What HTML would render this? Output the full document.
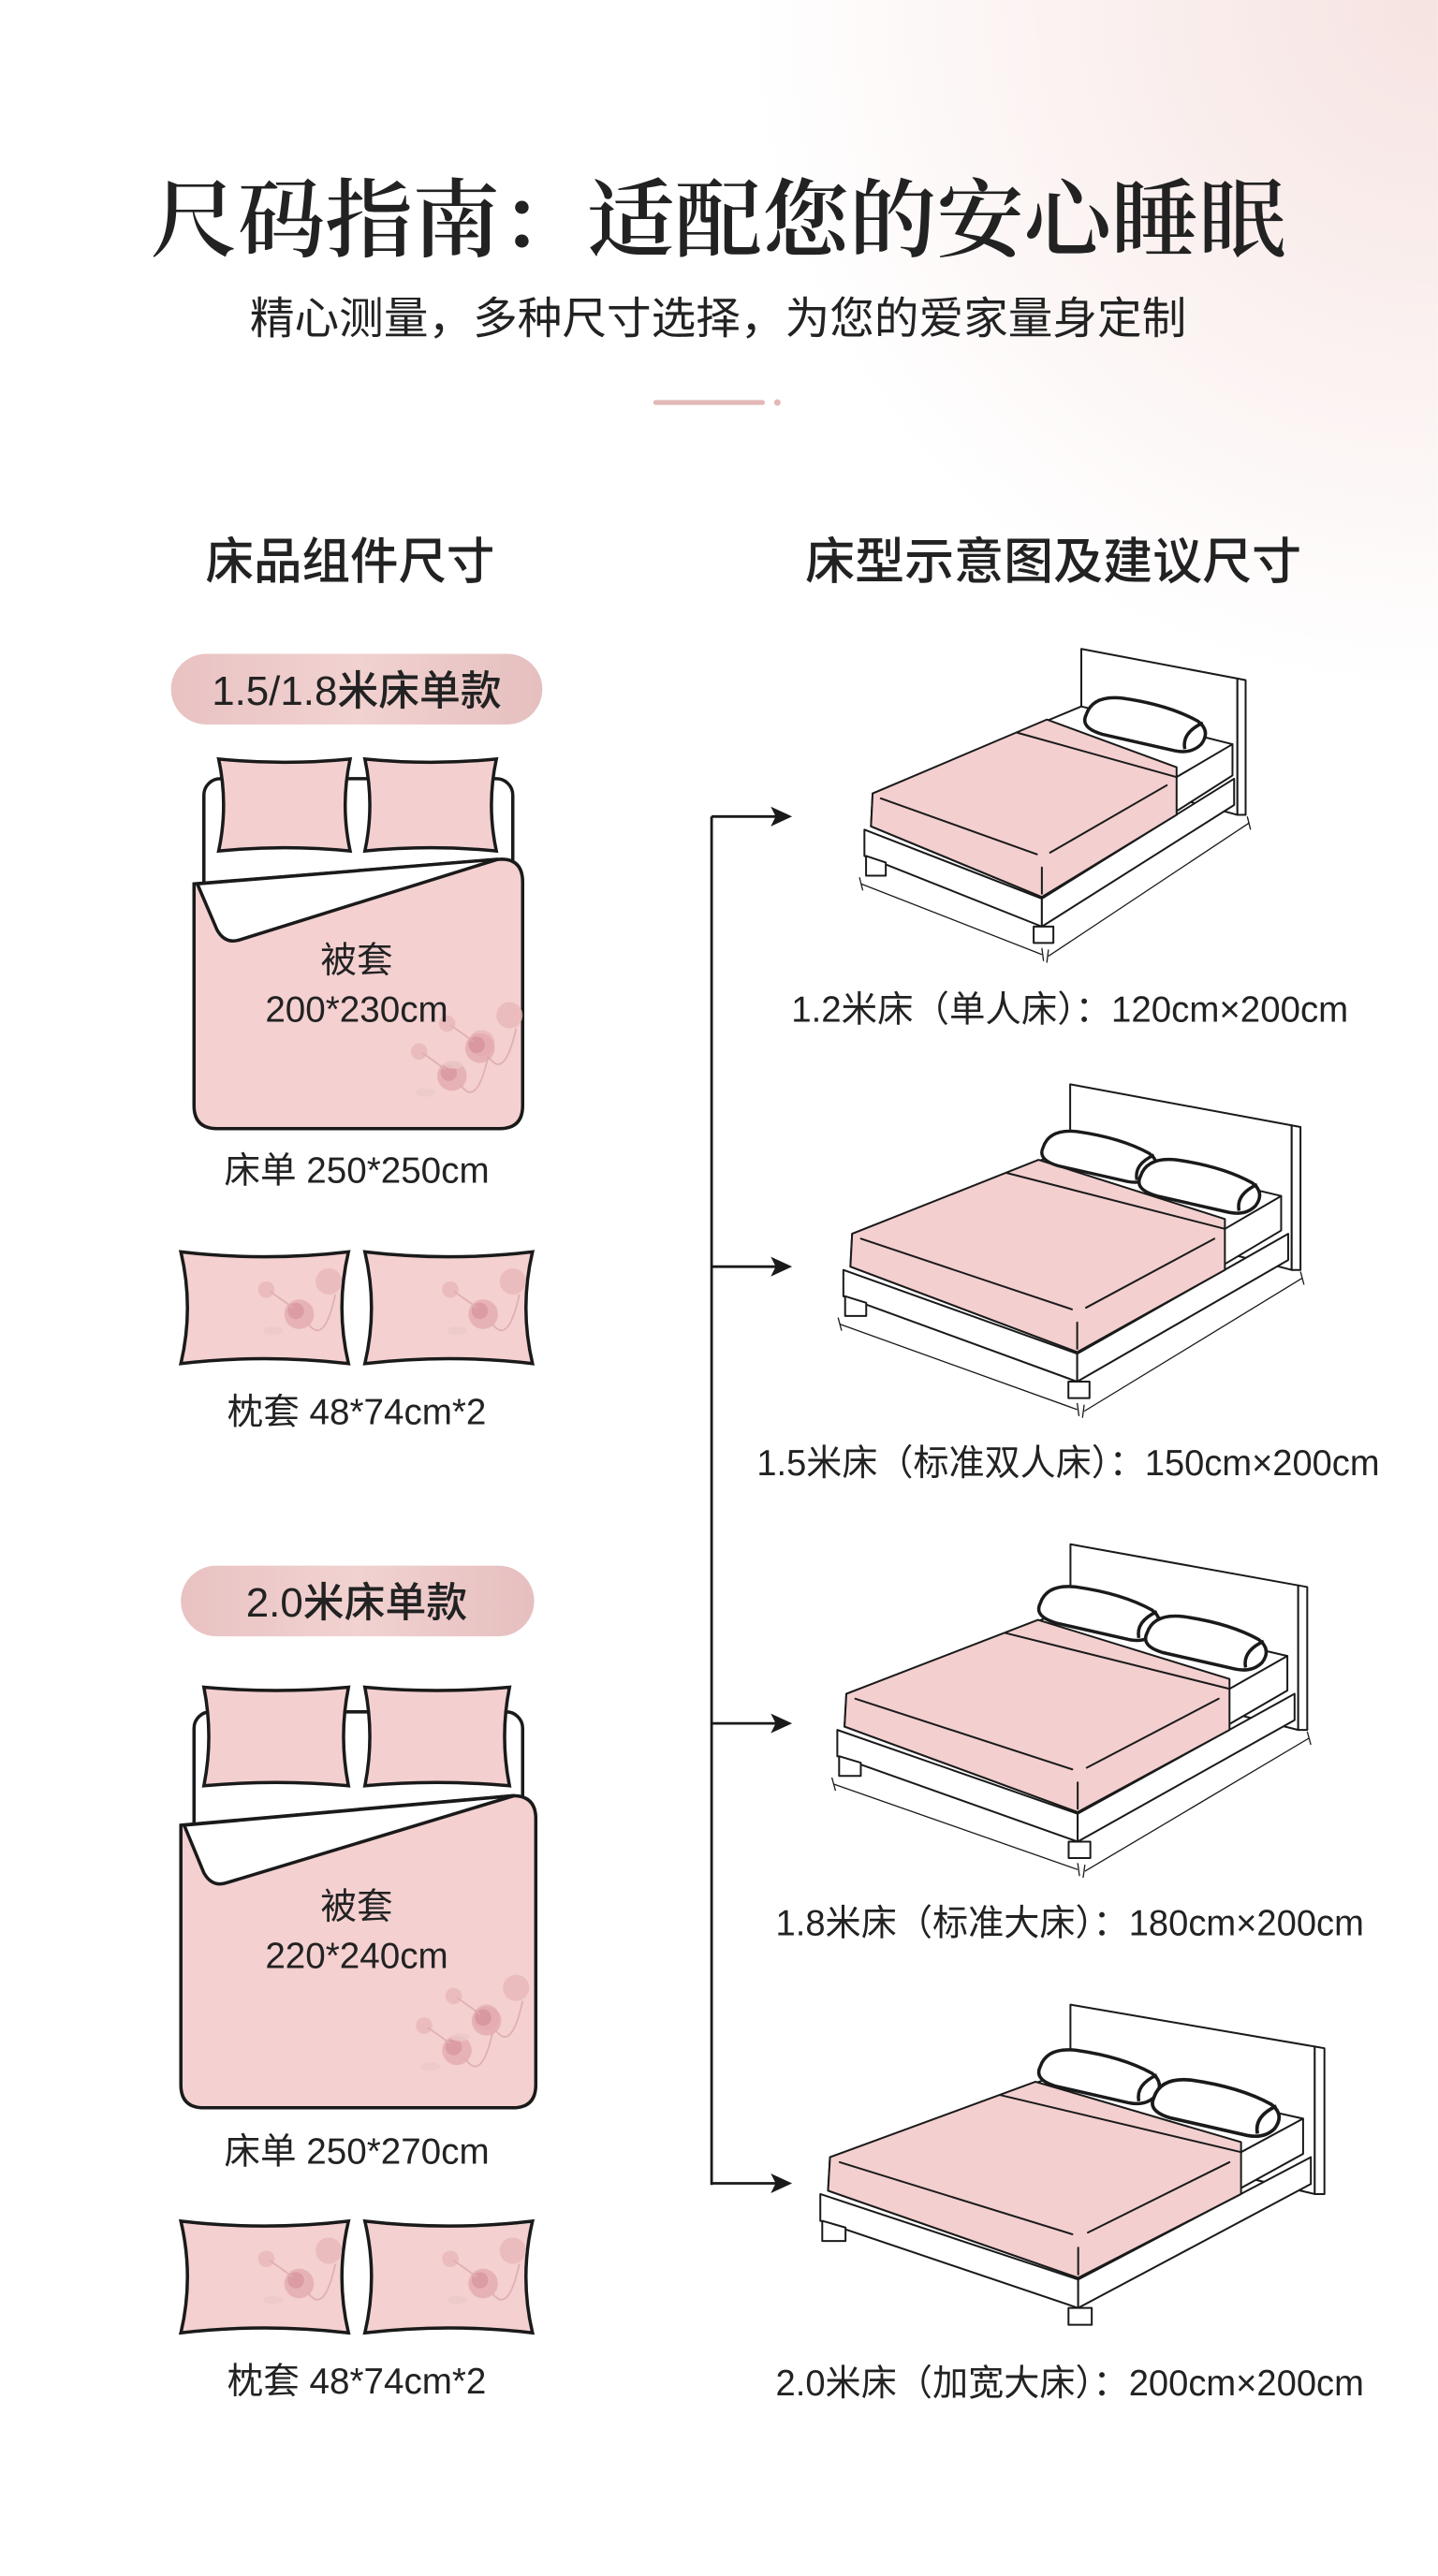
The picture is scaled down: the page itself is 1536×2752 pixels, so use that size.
<!DOCTYPE html>
<html><head><meta charset="utf-8">
<style>
html,body{margin:0;padding:0;background:#fff;}
svg{display:block;}
text{font-family:"Liberation Sans","Noto Sans CJK SC",sans-serif;fill:#222;}
.serif{font-family:"Liberation Serif","Noto Serif CJK SC",serif;}
</style></head>
<body>
<svg width="1536" height="2752" viewBox="0 0 875 1568" xmlns="http://www.w3.org/2000/svg">
<defs>
<radialGradient id="bg" cx="875" cy="0" r="420" gradientUnits="userSpaceOnUse">
<stop offset="0" stop-color="#f6e3e1"/><stop offset="1" stop-color="#ffffff"/>
</radialGradient>
<linearGradient id="pill" x1="0" x2="1"><stop offset="0" stop-color="#e9c2c2"/><stop offset="0.5" stop-color="#f1d2d1"/><stop offset="1" stop-color="#e6bfbf"/></linearGradient>
<g id="flower" opacity="0.75">
<circle cx="0" cy="0" r="9" fill="#e3a9ae"/><circle cx="-2" cy="-2" r="5" fill="#d38c95"/>
<circle cx="18" cy="-20" r="8" fill="#e8b6b9"/><circle cx="-20" cy="-15" r="5" fill="#e8b6b9"/>
<path d="M5 5 Q15 20 22 -12 M-4 -4 Q-12 -10 -18 -14" stroke="#d9a5a8" stroke-width="1" fill="none"/>
<ellipse cx="-16" cy="10" rx="6" ry="2.5" fill="#eccaca"/>
</g>
<g id="bedN" stroke="#1a1a1a" stroke-width="2" stroke-linejoin="round" stroke-linecap="round">
<polygon points="24,-126 119,-108 119,-25 24,-51" fill="#fff" vector-effect="non-scaling-stroke"/>
<polygon points="119,-108 124,-107 124,-25 119,-25" fill="#fff" vector-effect="non-scaling-stroke"/>
<polygon points="-108,-16 0,26 0,43 -108,0" fill="#fff" vector-effect="non-scaling-stroke"/>
<polygon points="0,26 117,-47 117,-31 0,43" fill="#fff" vector-effect="non-scaling-stroke"/>
<polygon points="-107,0 -95,4 -95,12 -107,12" fill="#fff" vector-effect="non-scaling-stroke"/>
<polygon points="-5,43 7,43 7,53 -5,53" fill="#fff" vector-effect="non-scaling-stroke"/>
<polygon points="-103,-38 24,-91 116,-68 116,-49 0,25 -104,-18" fill="#fff" vector-effect="non-scaling-stroke"/>
<polygon points="-103,-38 3,-83 82,-54 82,-25 0,25 -104,-18" fill="#f3cfcf" vector-effect="non-scaling-stroke"/>
<line x1="-15" y1="-75" x2="82" y2="-48" vector-effect="non-scaling-stroke"/>
<line x1="-98" y1="-35" x2="-3" y2="-1" vector-effect="non-scaling-stroke"/>
<line x1="5" y1="-2" x2="76" y2="-43" vector-effect="non-scaling-stroke"/>
<line x1="0" y1="7" x2="0" y2="23" vector-effect="non-scaling-stroke"/>
<line x1="82" y1="-48" x2="116" y2="-68" vector-effect="non-scaling-stroke"/>
</g>
<g id="dimsN" stroke="#1a1a1a" stroke-width="1.3">
<line x1="-110" y1="17" x2="0" y2="60" vector-effect="non-scaling-stroke"/>
<line x1="4" y1="61" x2="126" y2="-20" vector-effect="non-scaling-stroke"/>
<line x1="-111" y1="13" x2="-109" y2="21" vector-effect="non-scaling-stroke"/>
<line x1="125" y1="-24" x2="127" y2="-16" vector-effect="non-scaling-stroke"/>
<line x1="0" y1="56" x2="1" y2="64" vector-effect="non-scaling-stroke"/>
<line x1="4" y1="57" x2="3" y2="65" vector-effect="non-scaling-stroke"/>
</g>
<g id="bedW" stroke="#1a1a1a" stroke-width="2" stroke-linejoin="round" stroke-linecap="round">
<polygon points="-4,-138 122,-113 122,-25 -4,-60" fill="#fff" vector-effect="non-scaling-stroke"/>
<polygon points="122,-113 127,-112 127,-25 122,-25" fill="#fff" vector-effect="non-scaling-stroke"/>
<polygon points="-133,-25 0,26 0,43 -133,-9" fill="#fff" vector-effect="non-scaling-stroke"/>
<polygon points="0,26 120,-47 120,-31 0,43" fill="#fff" vector-effect="non-scaling-stroke"/>
<polygon points="-132,-9 -120,-5 -120,3 -132,3" fill="#fff" vector-effect="non-scaling-stroke"/>
<polygon points="-5,43 7,43 7,53 -5,53" fill="#fff" vector-effect="non-scaling-stroke"/>
<polygon points="-128,-47 -1,-100 116,-70 116,-49 0,25 -129,-27" fill="#fff" vector-effect="non-scaling-stroke"/>
<polygon points="-128,-47 -22,-92 84,-56 84,-25 0,25 -129,-27" fill="#f3cfcf" vector-effect="non-scaling-stroke"/>
<line x1="-40" y1="-84" x2="84" y2="-50" vector-effect="non-scaling-stroke"/>
<line x1="-123" y1="-44" x2="-3" y2="-1" vector-effect="non-scaling-stroke"/>
<line x1="5" y1="-2" x2="78" y2="-44" vector-effect="non-scaling-stroke"/>
<line x1="0" y1="7" x2="0" y2="23" vector-effect="non-scaling-stroke"/>
<line x1="84" y1="-50" x2="116" y2="-70" vector-effect="non-scaling-stroke"/>
</g>
<g id="dimsW" stroke="#1a1a1a" stroke-width="1.3">
<line x1="-135" y1="8" x2="0" y2="60" vector-effect="non-scaling-stroke"/>
<line x1="4" y1="61" x2="128" y2="-20" vector-effect="non-scaling-stroke"/>
<line x1="-136" y1="4" x2="-134" y2="12" vector-effect="non-scaling-stroke"/>
<line x1="127" y1="-24" x2="129" y2="-16" vector-effect="non-scaling-stroke"/>
<line x1="0" y1="56" x2="1" y2="64" vector-effect="non-scaling-stroke"/>
<line x1="4" y1="57" x2="3" y2="65" vector-effect="non-scaling-stroke"/>
</g>
<g id="pil" stroke="#1a1a1a" stroke-width="2" fill="#fff" stroke-linejoin="round">
<path d="M-36 -6 Q-32 -18 -14 -16 Q14 -12 32 -2 Q40 4 34 12 Q28 18 18 16 L-26 6 Q-40 2 -36 -6 Z"/>
<path d="M24 15 Q22 5 35 -1" fill="none"/>
</g>
</defs>
<rect width="875" height="1568" fill="#fff"/>
<rect width="875" height="420" fill="url(#bg)"/>

<text x="437" y="152" font-size="52" font-weight="600" text-anchor="middle" class="serif" textLength="691" lengthAdjust="spacingAndGlyphs" fill="#151515">尺码指南：适配您的安心睡眠</text>
<text x="437" y="203" font-size="27" text-anchor="middle" textLength="570" lengthAdjust="spacingAndGlyphs" fill="#333">精心测量，多种尺寸选择，为您的爱家量身定制</text>
<line x1="399" y1="245" x2="464" y2="245" stroke="#e3b9b8" stroke-width="3" stroke-linecap="round"/>
<circle cx="473" cy="245" r="2" fill="#e3b9b8"/>

<text x="213" y="352" font-size="30" font-weight="500" text-anchor="middle" textLength="176" lengthAdjust="spacingAndGlyphs">床品组件尺寸</text>
<text x="641" y="352" font-size="30" font-weight="500" text-anchor="middle" textLength="302" lengthAdjust="spacingAndGlyphs">床型示意图及建议尺寸</text>

<!-- set 1 -->
<rect x="104" y="398" width="226" height="43" rx="21.5" fill="url(#pill)"/>
<text x="217" y="429" font-size="25" font-weight="500" text-anchor="middle">1.5/1.8米床单款</text>
<g stroke="#1a1a1a" stroke-width="2">
<rect x="124" y="474" width="188" height="90" rx="10" fill="#fff"/>
<path d="M133 462 Q173 466 213 462 Q207 490 213 518 Q173 514 133 518 Q139 490 133 462Z" fill="#f3cfcf"/>
<path d="M222 462 Q262 466 302 462 Q296 490 302 518 Q262 514 222 518 Q228 490 222 462Z" fill="#f3cfcf"/>
<path d="M118 538 L305 523 Q318 523 318 537 L318 673 Q318 687 304 687 L132 687 Q118 687 118 673 Z" fill="#f4d0d0"/>
<path d="M120 538 L303 523 L146 572 Q137 575 132 566 Z" fill="#fff"/>
</g>
<use href="#flower" x="275" y="655"/><use href="#flower" x="292" y="638"/>
<text x="217" y="592" font-size="22" text-anchor="middle">被套</text>
<text x="217" y="622" font-size="22" text-anchor="middle">200*230cm</text>
<text x="217" y="720" font-size="22" text-anchor="middle">床单 250*250cm</text>
<g stroke="#1a1a1a" stroke-width="2" fill="#f4d0d0">
<path d="M110 762 Q161 768 212 762 Q204 796 212 830 Q161 824 110 830 Q118 796 110 762Z"/>
<path d="M222 762 Q273 768 324 762 Q316 796 324 830 Q273 824 222 830 Q230 796 222 762Z"/>
</g>
<use href="#flower" x="182" y="800"/><use href="#flower" x="294" y="800"/>
<text x="217" y="867" font-size="22" text-anchor="middle">枕套 48*74cm*2</text>

<!-- set 2 -->
<rect x="110" y="953" width="215" height="43" rx="21.5" fill="url(#pill)"/>
<text x="217" y="984" font-size="25" font-weight="500" text-anchor="middle">2.0米床单款</text>
<g stroke="#1a1a1a" stroke-width="2">
<rect x="118" y="1042" width="200" height="90" rx="10" fill="#fff"/>
<path d="M124 1027 Q168 1031 212 1027 Q206 1057 212 1087 Q168 1083 124 1087 Q130 1057 124 1027Z" fill="#f3cfcf"/>
<path d="M222 1027 Q266 1031 310 1027 Q304 1057 310 1087 Q266 1083 222 1087 Q228 1057 222 1027Z" fill="#f3cfcf"/>
<path d="M110 1111 L312 1093 Q326 1093 326 1107 L326 1269 Q326 1283 312 1283 L124 1283 Q110 1283 110 1269 Z" fill="#f4d0d0"/>
<path d="M112 1111 L313 1093 L138 1146 Q129 1149 124 1140 Z" fill="#fff"/>
</g>
<use href="#flower" x="278" y="1248"/><use href="#flower" x="296" y="1230"/>
<text x="217" y="1168" font-size="22" text-anchor="middle">被套</text>
<text x="217" y="1198" font-size="22" text-anchor="middle">220*240cm</text>
<text x="217" y="1317" font-size="22" text-anchor="middle">床单 250*270cm</text>
<g stroke="#1a1a1a" stroke-width="2" fill="#f4d0d0">
<path d="M110 1352 Q161 1358 212 1352 Q204 1386 212 1420 Q161 1414 110 1420 Q118 1386 110 1352Z"/>
<path d="M222 1352 Q273 1358 324 1352 Q316 1386 324 1420 Q273 1414 222 1420 Q230 1386 222 1352Z"/>
</g>
<use href="#flower" x="182" y="1390"/><use href="#flower" x="294" y="1390"/>
<text x="217" y="1457" font-size="22" text-anchor="middle">枕套 48*74cm*2</text>

<!-- connector -->
<g stroke="#1a1a1a" stroke-width="1.6">
<line x1="433" y1="497" x2="433" y2="1330"/>
<line x1="433" y1="497" x2="472" y2="497"/>
<line x1="433" y1="771" x2="472" y2="771"/>
<line x1="433" y1="1049" x2="472" y2="1049"/>
<line x1="433" y1="1329" x2="472" y2="1329"/>
</g>
<g fill="#1a1a1a">
<polygon points="482,497 469,491 472,497 469,503"/>
<polygon points="482,771 469,765 472,771 469,777"/>
<polygon points="482,1049 469,1043 472,1049 469,1055"/>
<polygon points="482,1329 469,1323 472,1329 469,1335"/>
</g>

<!-- beds -->
<g transform="translate(634 521)"><use href="#bedN"/><use href="#dimsN"/></g>
<use href="#pil" transform="translate(697 441)"/>
<text x="651" y="622" font-size="22" text-anchor="middle" textLength="339" lengthAdjust="spacingAndGlyphs">1.2米床（单人床）：120cm×200cm</text>

<g transform="translate(655.5 798) scale(1.07 1)"><use href="#bedW"/><use href="#dimsW"/></g>
<use href="#pil" transform="translate(669 704) scale(0.95)"/>
<use href="#pil" transform="translate(730 722)"/>
<text x="650" y="898" font-size="22" text-anchor="middle" textLength="379" lengthAdjust="spacingAndGlyphs">1.5米床（标准双人床）：150cm×200cm</text>

<g transform="translate(655.8 1078) scale(1.1 1)"><use href="#bedW"/><use href="#dimsW"/></g>
<use href="#pil" transform="translate(669 982)"/>
<use href="#pil" transform="translate(734 1000)"/>
<text x="651" y="1178" font-size="22" text-anchor="middle" textLength="358" lengthAdjust="spacingAndGlyphs">1.8米床（标准大床）：180cm×200cm</text>

<g transform="translate(656.1 1361) scale(1.18 1.02)"><use href="#bedW"/></g>
<use href="#pil" transform="translate(669 1264)"/>
<use href="#pil" transform="translate(740 1283) scale(1.05)"/>
<text x="651" y="1458" font-size="22" text-anchor="middle" textLength="358" lengthAdjust="spacingAndGlyphs">2.0米床（加宽大床）：200cm×200cm</text>
</svg>
</body></html>
